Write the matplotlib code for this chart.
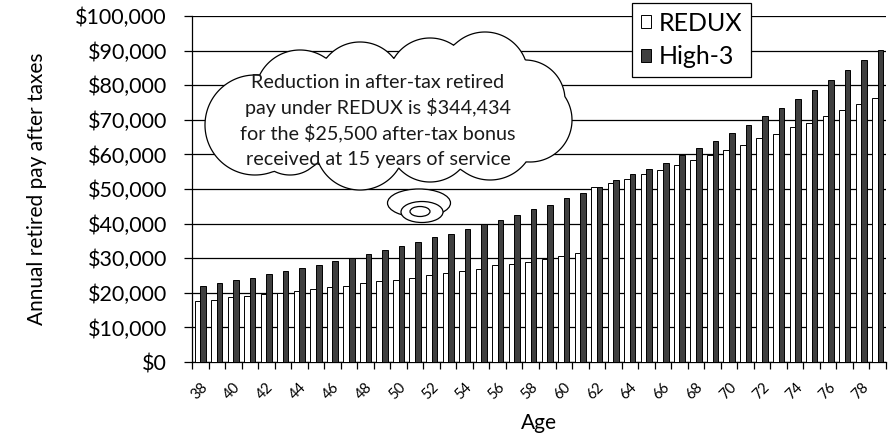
import numpy as np
import matplotlib
matplotlib.use("Agg")
import matplotlib.pyplot as plt
from matplotlib.patches import Patch, Polygon, Ellipse

plt.rcParams["font.family"] = ["Lato", "DejaVu Sans"]

ages = list(range(38, 80))
redux = [17700, 18050, 18700, 19000, 19600, 20000, 20500, 21100, 21700, 22100,
         22700, 23300, 23800, 24400, 25100, 25700, 26200, 26800, 27900, 28400,
         29000, 29900, 30600, 31400, 50500, 51800, 53000, 54300, 55500, 57000,
         58500, 59700, 61200, 62700, 64600, 65900, 67900, 69200, 71000, 72900,
         74600, 76400]
high3 = [22000, 22900, 23800, 24400, 25300, 26200, 27100, 28000, 29200, 30200,
         31300, 32300, 33400, 34600, 36000, 37100, 38300, 40000, 41000, 42500,
         44100, 45500, 47300, 48800, 50500, 52500, 54200, 55800, 57500, 59700,
         61800, 63900, 66200, 68600, 71000, 73500, 75900, 78600, 81600, 84300,
         87300, 90300]
series_names = ["REDUX", "High-3"]
y_ticks = list(range(0, 100001, 10000))
callout_lines = ["Reduction in after-tax retired",
                 "pay under REDUX is $344,434",
                 "for the $25,500 after-tax bonus",
                 "received at 15 years of service"]

W, H = 888, 440

# cloud made of overlapping circles, in figure pixels (y down)
CLOUD = [(255, 125, 50), (300, 95, 45), (360, 85, 43), (430, 80, 42),
         (485, 75, 43), (525, 100, 40), (530, 120, 42), (490, 135, 45),
         (430, 140, 42), (360, 145, 45), (290, 140, 35)]


def cloud_outline(circles, center, n=1440):
    x0, y0 = center
    th = np.linspace(0, 2 * np.pi, n, endpoint=False)
    dx, dy = np.cos(th), np.sin(th)
    best = np.zeros(n)
    for cx, cy, r in circles:
        ox, oy = x0 - cx, y0 - cy
        b = ox * dx + oy * dy
        c = ox ** 2 + oy ** 2 - r ** 2
        disc = b ** 2 - c
        t = np.where(disc >= 0, -b + np.sqrt(np.clip(disc, 0, None)), 0)
        best = np.maximum(best, t)
    return np.column_stack([x0 + best * dx, y0 + best * dy])


def main():
    fig = plt.figure(figsize=(W / 100, H / 100), dpi=100)
    ax = fig.add_axes([192 / W, 1 - 362 / H, (886 - 192) / W, (362 - 16) / H])

    x = np.arange(len(ages))
    bw = 0.34
    ax.bar(x - bw / 2, redux, bw, color="white", edgecolor="black", linewidth=0.7, zorder=3)
    ax.bar(x + bw / 2, high3, bw, color="#3f3f3f", edgecolor="black", linewidth=0.7, zorder=3)

    ax.set_xlim(-0.5, len(ages) - 0.5)
    ax.set_ylim(0, 100000)
    ax.set_yticks(y_ticks)
    ax.set_yticklabels([f"${v:,}" for v in y_ticks], fontsize=15.5)
    ax.yaxis.grid(True, color="black", linewidth=0.9)
    ax.set_axisbelow(True)
    ax.tick_params(axis="y", length=6, width=0.9, pad=12)

    ax.set_xticks(np.arange(len(ages) + 1) - 0.5)
    ax.set_xticklabels([])
    ax.tick_params(axis="x", which="major", length=5, width=0.9)
    ax.set_xticks(x[::2], minor=True)
    ax.set_xticklabels([str(a) for a in ages[::2]], minor=True, fontsize=10.5,
                       rotation=45, ha="right", va="top", rotation_mode="anchor")
    ax.tick_params(axis="x", which="minor", length=0, pad=13)

    for s in ["top", "right"]:
        ax.spines[s].set_visible(False)
    for s in ["left", "bottom"]:
        ax.spines[s].set_linewidth(0.9)

    handles = [Patch(facecolor="white", edgecolor="black", linewidth=0.7),
               Patch(facecolor="#3f3f3f", edgecolor="black", linewidth=0.7)]
    leg = fig.legend(handles, series_names, loc="upper left",
                     bbox_to_anchor=(632 / W, 1 - 3 / H), fontsize=18,
                     frameon=True, fancybox=False, framealpha=1, edgecolor="black",
                     handlelength=0.42, handleheight=0.42, handletextpad=0.3,
                     labelspacing=0.42, borderpad=0.35, borderaxespad=0)
    leg.get_frame().set_linewidth(0.9)

    fig.text(37 / W, 1 - 189 / H, "Annual retired pay after taxes", rotation=90,
             ha="center", va="center", fontsize=15)
    fig.text(539 / W, 1 - 423 / H, "Age", ha="center", va="center", fontsize=15)

    # callout cloud overlay
    ov = fig.add_axes([0, 0, 1, 1], zorder=5)
    ov.set_xlim(0, W)
    ov.set_ylim(H, 0)
    ov.axis("off")
    ov.patch.set_visible(False)
    ov.add_patch(Polygon(cloud_outline(CLOUD, (385, 112)), closed=True,
                         facecolor="white", edgecolor="black", linewidth=0.9))
    for (cx, cy, w, h) in [(419, 203, 63, 28), (422, 212, 42, 21), (420, 211.5, 20, 10)]:
        ov.add_patch(Ellipse((cx, cy), w, h, facecolor="white", edgecolor="black", linewidth=0.9))
    for i, line in enumerate(callout_lines):
        ov.text(378, 82 + i * 25.7, line, ha="center", va="center", fontsize=14.2, color="#1a1a1a")

    fig.savefig("out.png", dpi=100)


if __name__ == "__main__":
    main()
